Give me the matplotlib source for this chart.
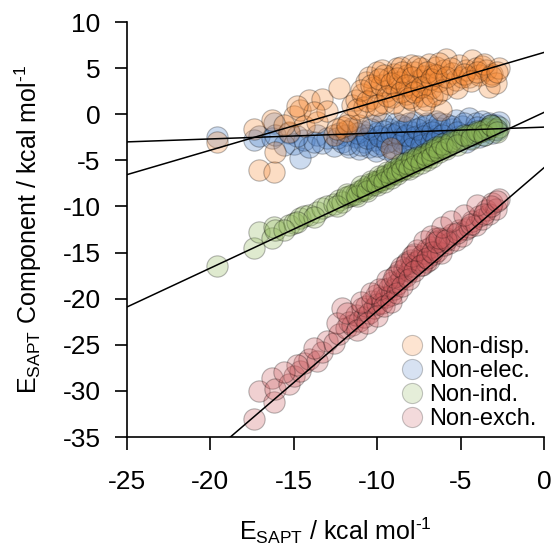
import matplotlib
matplotlib.use("Agg")
import matplotlib.pyplot as plt
from matplotlib.lines import Line2D

plt.rcParams['font.family'] = ['Liberation Sans', 'DejaVu Sans']
plt.rcParams['mathtext.fontset'] = 'custom'
plt.rcParams['mathtext.rm'] = 'Liberation Sans'
plt.rcParams['axes.unicode_minus'] = False

# ---- data ----
e_sapt = [-19.6, -17.4, -17.1, -16.3, -16.2, -16.1, -15.3, -15.0, -14.6, -14.4,
          -14.1, -13.6, -13.3, -13.0, -12.6, -12.3, -12.1, -11.9, -11.7, -11.5,
          -11.3, -11.1, -10.9, -10.8, -10.7, -10.5, -10.3, -10.2, -10.1, -10.0,
          -9.8, -9.7, -9.6, -9.5, -9.3, -9.2, -9.1, -9.0, -8.9, -8.8,
          -8.7, -8.6, -8.4, -8.3, -8.2, -8.1, -8.0, -7.9, -7.8, -7.7,
          -7.5, -7.4, -7.3, -7.2, -7.1, -7.0, -6.9, -6.8, -6.6, -6.5,
          -6.4, -6.3, -6.2, -6.0, -5.9, -5.7, -5.5, -5.3, -5.1, -4.9,
          -4.7, -4.5, -4.3, -4.1, -3.9, -3.7, -3.5, -3.3, -3.1, -2.9, -2.7,
          -12.4, -11.8, -11.2, -11.0, -10.6, -10.4, -10.0, -9.9, -9.6, -9.4,
          -9.2, -9.0, -8.8, -8.6, -8.5, -8.3, -8.1, -7.9, -7.8, -7.6,
          -7.4, -7.2, -7.0, -6.8, -6.7, -6.5, -6.3, -6.1, -5.9, -5.6,
          -5.2, -4.8, -4.4, -4.0, -3.6, -3.2, -2.8, -13.8, -14.8, -15.6]

non_disp = [-3.0, -1.6, -6.1, -0.6, -6.3, -4.1, -1.9, -0.2, 0.5, -1.3,
            1.5, -0.8, 1.7, 0.3, -2.2, 2.8, -1.4, -1.8, -0.7, 1.0,
            1.5, -1.2, 2.2, 0.8, 3.5, 4.0, 1.8, 2.9, 0.4, 4.6,
            3.2, 4.8, 1.2, 2.5, 3.9, -3.7, 1.9, 4.4, 2.8, 5.0,
            3.5, 5.1, 0.4, 2.2, 4.2, 3.0, 5.3, 1.5, 4.6, 2.6,
            3.7, 5.0, 2.0, 4.1, 1.5, 3.3, 5.4, 2.8, 4.4, 5.1,
            2.2, 3.6, 0.5, 4.8, 6.0, 3.3, 4.5, 3.7, 5.3, 4.0,
            4.8, 4.0, 5.9, 5.0, 4.3, 5.2, 4.8, 3.0, 4.4, 3.4, 5.0,
            -1.6, -1.2, 0.6, 2.6, 1.4, 3.2, 1.0, 3.8, 4.2, 2.0,
            3.4, 1.2, 3.9, 2.4, 4.6, 3.2, 1.8, 4.0, 2.4, 5.2,
            3.0, 1.0, 4.6, 3.8, 2.0, 4.2, 5.6, 2.6, 4.0, 5.0,
            2.8, 4.4, 3.6, 4.6, 5.5, 4.1, 4.6, 0.2, 0.9, -1.2]

non_elec = [-2.5, -2.8, -2.4, -2.6, -1.0, -2.2, -2.0, -3.2, -4.8, -2.8,
            -3.6, -2.3, -3.1, -2.6, -3.4, -2.0, -3.0, -2.2, -3.6, -1.5,
            -2.5, -3.8, -1.8, -3.0, -2.2, -3.5, -1.2, -2.8, -4.0, -2.0,
            -3.2, -1.0, -2.6, -3.8, -1.6, -2.9, -3.6, -2.2, -0.9, -3.1,
            -1.8, -2.6, -3.9, -1.4, -2.4, -3.4, -1.9, -2.8, -0.8, -3.6,
            -2.2, -1.4, -3.0, -2.0, -3.9, -1.2, -2.6, -1.7, -3.2, -0.7,
            -2.3, -1.5, -3.4, -2.0, -1.1, -2.8, -1.6, -0.6, -2.4, -1.3,
            -3.0, -0.4, -1.9, -1.0, -2.5, -0.7, -1.6, -0.9, -2.0, -1.2, -0.8,
            -2.6, -3.2, -2.0, -3.3, -2.6, -1.6, -3.4, -2.4, -1.8, -3.0,
            -2.1, -4.2, -2.0, -1.2, -3.0, -2.3, -1.0, -3.7, -2.5, -1.6,
            -3.3, -2.4, -0.9, -3.0, -1.9, -2.7, -1.0, -2.2, -3.0, -1.3,
            -1.9, -0.9, -2.6, -1.4, -2.2, -1.2, -1.7, -3.0, -2.4, -3.3]

non_ind = [-16.5, -14.5, -12.8, -13.4, -12.2, -12.6, -12.0, -11.8, -11.3, -11.0,
           -10.9, -10.6, -10.2, -10.0, -9.7, -9.3, -9.5, -9.0, -8.9, -8.8,
           -8.7, -8.3, -8.2, -8.0, -8.1, -7.6, -7.7, -7.3, -7.5, -7.2,
           -7.1, -6.8, -7.0, -6.6, -6.7, -6.4, -6.5, -6.2, -6.3, -5.9,
           -6.1, -5.8, -5.6, -5.8, -5.4, -5.5, -5.2, -5.4, -5.0, -5.1,
           -4.8, -4.9, -4.6, -4.7, -4.4, -4.5, -4.2, -4.3, -4.0, -3.8,
           -3.9, -3.6, -3.7, -3.4, -3.5, -3.2, -3.0, -2.9, -2.7, -2.6,
           -2.4, -2.3, -2.2, -2.0, -1.9, -1.8, -1.6, -1.5, -1.3, -1.6, -1.4,
           -9.9, -8.6, -8.9, -7.8, -8.3, -7.2, -7.7, -6.7, -7.4, -6.3,
           -6.9, -5.9, -6.5, -5.4, -6.1, -5.3, -5.9, -4.9, -5.6, -4.6,
           -5.3, -4.3, -5.0, -3.9, -4.6, -3.5, -4.1, -3.2, -3.8, -2.9,
           -3.3, -2.2, -2.7, -1.8, -2.2, -1.2, -1.9, -11.1, -11.7, -12.6]

non_exch = [-38.0, -33.1, -30.0, -28.6, -31.2, -29.8, -29.2, -28.4, -27.8, -27.0,
            -26.5, -26.8, -25.8, -24.6, -24.8, -23.8, -21.0, -23.2, -22.5, -22.9,
            -21.8, -22.4, -21.0, -22.0, -20.8, -21.6, -20.2, -21.0, -19.6, -20.6,
            -19.8, -20.5, -19.0, -19.8, -18.8, -19.6, -18.2, -19.0, -17.4, -18.4,
            -17.0, -17.9, -16.8, -17.5, -16.0, -17.0, -15.8, -16.5, -15.2, -16.0,
            -15.8, -15.4, -16.4, -15.0, -16.0, -14.6, -15.8, -14.4, -15.2, -13.4,
            -14.8, -13.6, -15.0, -14.2, -13.4, -14.0, -13.0, -13.6, -12.6, -13.2,
            -12.4, -12.2, -11.6, -12.0, -11.0, -11.4, -10.4, -10.8, -9.6, -10.3, -9.2,
            -22.6, -21.6, -23.4, -20.4, -22.6, -19.4, -21.9, -18.9, -20.8, -18.0,
            -20.4, -17.6, -19.4, -16.6, -18.6, -16.2, -17.9, -15.4, -17.0, -14.7,
            -16.4, -13.8, -15.6, -13.2, -14.9, -13.9, -13.4, -12.2, -13.6, -11.6,
            -12.9, -10.9, -11.9, -9.8, -10.8, -9.9, -9.4, -25.4, -27.2, -28.0]

series_names = ['Non-disp.', 'Non-elec.', 'Non-ind.', 'Non-exch.']
series_values = [non_disp, non_elec, non_ind, non_exch]
series_colors = ['#F7862E', '#4A7EC6', '#8DB655', '#CC585C']
fit_slope = [0.53, 0.064, 0.844, 1.553]
fit_intercept = [6.7, -1.4, 0.2, -5.8]
draw_order = [1, 0, 2, 3]

x_ticks = [-25, -20, -15, -10, -5, 0]
y_ticks = [10, 5, 0, -5, -10, -15, -20, -25, -30, -35]

# ---- figure ----
fig = plt.figure(figsize=(5.54, 5.48), dpi=100)
ax = fig.add_axes([127/554, 1 - 437/548, 417/554, 415/548])

for i in draw_order:
    ax.scatter(e_sapt, series_values[i], s=235, facecolor=series_colors[i],
               edgecolor='black', linewidths=0.8, alpha=0.28, zorder=2)
    ax.axline((0, fit_intercept[i]), slope=fit_slope[i], color='black',
              lw=1.1, zorder=3)

ax.set_xlim(-25, 0)
ax.set_ylim(-35, 10)
ax.set_xticks(x_ticks)
ax.set_yticks(y_ticks)
for sp in ['top', 'right']:
    ax.spines[sp].set_visible(False)
for sp in ['left', 'bottom']:
    ax.spines[sp].set_linewidth(1.2)
ax.tick_params(direction='out', length=9, width=1.2, labelsize=19)
ax.tick_params(axis='x', pad=15)
ax.tick_params(axis='y', pad=10)

ax.set_xlabel('E$_\\mathregular{SAPT}$ / kcal mol$^\\mathregular{\u20101}$', fontsize=18)
ax.set_ylabel('E$_\\mathregular{SAPT}$ Component / kcal mol$^\\mathregular{\u20101}$', fontsize=18)
ax.xaxis.set_label_coords(0.5, -0.19)
ax.yaxis.set_label_coords(-0.20, 0.5)

handles = [Line2D([], [], marker='o', linestyle='none', markersize=14.5,
                  markerfacecolor=c, markeredgecolor='black', markeredgewidth=0.8,
                  alpha=0.22) for c in series_colors]
ax.legend(handles, series_names, loc='lower right', bbox_to_anchor=(1.0, 0.0),
          frameon=False, fontsize=17, handletextpad=0.25, labelspacing=0.08,
          borderaxespad=0.0, borderpad=0.3, handlelength=1.0)

fig.savefig('out.png', dpi=100)
